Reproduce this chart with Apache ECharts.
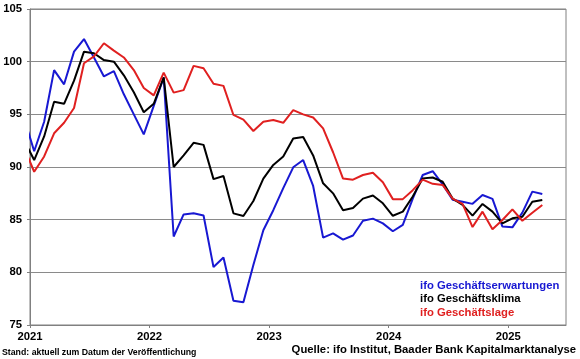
<!DOCTYPE html>
<html><head><meta charset="utf-8">
<script src="https://cdn.jsdelivr.net/npm/echarts/dist/echarts.min.js"></script>
<style>html,body{margin:0;padding:0;background:#fff}#c{width:580px;height:359px}</style>
</head><body><div id="c"></div><script>
// Months: Dec 2020 .. Apr 2025
const months = [];
(function(){ let y=2020, m=12; for(let i=0;i<53;i++){ months.push(y+'-'+String(m).padStart(2,'0')); m++; if(m>12){m=1;y++;} } })();

const yearLabels = ['2021','2022','2023','2024','2025'];
const yTicks = [75, 80, 85, 90, 95, 100, 105];

const seriesNames = ['ifo Geschäftserwartungen','ifo Geschäftsklima','ifo Geschäftslage'];

const erwartungen = [94.6,
  91.5, 94.3, 99.2, 97.85, 100.95, 102.15, 100.4, 98.6, 99.1, 96.9, 95.0, 93.1,
  95.8, 98.5, 83.4, 85.5, 85.6, 85.4, 80.5, 81.4, 77.3, 77.15, 80.7, 84.0,
  85.9, 88.0, 89.97, 90.66, 88.2, 83.3, 83.7, 83.1, 83.5, 84.9, 85.1, 84.65,
  83.9, 84.5, 87.0, 89.24, 89.6, 88.35, 86.9, 86.7, 86.5, 87.34, 86.98, 84.34,
  84.27, 85.67, 87.66, 87.44];
const klima = [92.5,
  90.66, 92.9, 96.2, 96.0, 98.2, 100.95, 100.8, 100.15, 100.0, 98.7, 97.1, 95.2,
  96.0, 98.5, 90.0, 91.1, 92.3, 92.1, 88.85, 89.15, 85.6, 85.35, 86.77, 88.9,
  90.2, 91.0, 92.7, 92.85, 91.1, 88.45, 87.5, 85.9, 86.1, 87.0, 87.3, 86.55,
  85.37, 85.76, 87.2, 88.92, 89.0, 88.6, 87.0, 86.4, 85.38, 86.49, 85.76, 84.65,
  85.13, 85.28, 86.7, 86.87];
const lage = [91.8,
  89.55, 91.0, 93.2, 94.2, 95.6, 99.85, 100.5, 101.75, 101.05, 100.4, 99.2, 97.5,
  96.8, 98.96, 97.06, 97.3, 99.6, 99.37, 97.9, 97.7, 94.94, 94.5, 93.42, 94.3,
  94.46, 94.2, 95.4, 95.0, 94.7, 93.67, 91.4, 88.9, 88.8, 89.24, 89.46, 88.55,
  86.95, 86.95, 87.8, 88.8, 88.4, 88.3, 87.0, 86.5, 84.3, 85.76, 84.1, 84.97,
  85.98, 84.9, 85.66, 86.39];

const colors = ['#1818d2', '#000000', '#e02020'];
const FONT = '"Liberation Sans", Arial, sans-serif';

// month string -> months since Jan 2021 (plotted mid-month)
function monthPos(s){ const p=s.split('-'); return (+p[0]-2021)*12 + (+p[1]-1) + 0.42; }
function pairs(vals){ return months.map((mo,i)=>[monthPos(mo), vals[i]]); }

const yearTickVals = yearLabels.map((y)=> (+y-2021)*12);

const chart = echarts.init(document.getElementById('c'), null, {renderer:'canvas'});
chart.setOption({
  animation:false,
  backgroundColor:'#ffffff',
  grid:{left:30,right:14,top:9,bottom:34,show:true,borderColor:'#808080',borderWidth:1,backgroundColor:'transparent'},
  xAxis:{type:'value',min:0,max:53.8,interval:12,
    axisLine:{show:true,onZero:false,lineStyle:{color:'#808080',width:1}},
    axisTick:{show:true,length:3,customValues:yearTickVals,lineStyle:{color:'#808080'}},
    splitLine:{show:false},
    axisLabel:{margin:6,color:'#000',fontFamily:FONT,fontWeight:'bold',fontSize:11.3,
      customValues:yearTickVals,
      formatter:(v)=>{ const i=yearTickVals.indexOf(Math.round(v)); return i>=0?yearLabels[i]:''; }}
  },
  yAxis:{type:'value',min:yTicks[0],max:yTicks[yTicks.length-1],interval:5,
    axisLine:{show:true,lineStyle:{color:'#808080',width:1}},
    axisTick:{show:true,length:3,lineStyle:{color:'#808080'}},
    splitLine:{show:true,lineStyle:{color:'#8a8a8a',width:1}},
    axisLabel:{margin:8,color:'#000',fontFamily:FONT,fontWeight:'bold',fontSize:11.3}
  },
  legend:{orient:'vertical',left:414,top:279,padding:0,itemGap:0,itemWidth:0,itemHeight:0,
    selectedMode:false,
    itemStyle:{opacity:0},lineStyle:{opacity:0},
    textStyle:{fontFamily:FONT,fontWeight:'bold',fontSize:11.3,lineHeight:13.5},
    data:seriesNames.map((n,i)=>({name:n,textStyle:{color:colors[i]}}))
  },
  graphic:[
    {type:'text',left:2,top:348,style:{text:'Stand: aktuell zum Datum der Veröffentlichung',font:'bold 8.75px '+FONT,fill:'#000'}},
    {type:'text',right:4,top:344,style:{text:'Quelle: ifo Institut, Baader Bank Kapitalmarktanalyse',font:'bold 11.3px '+FONT,fill:'#000'}}
  ],
  series:[erwartungen, klima, lage].map((vals,i)=>({
    name:seriesNames[i],type:'line',data:pairs(vals),showSymbol:false,symbol:'none',
    clip:true,lineStyle:{color:colors[i],width:2},itemStyle:{color:colors[i]}
  }))
});
</script></body></html>
